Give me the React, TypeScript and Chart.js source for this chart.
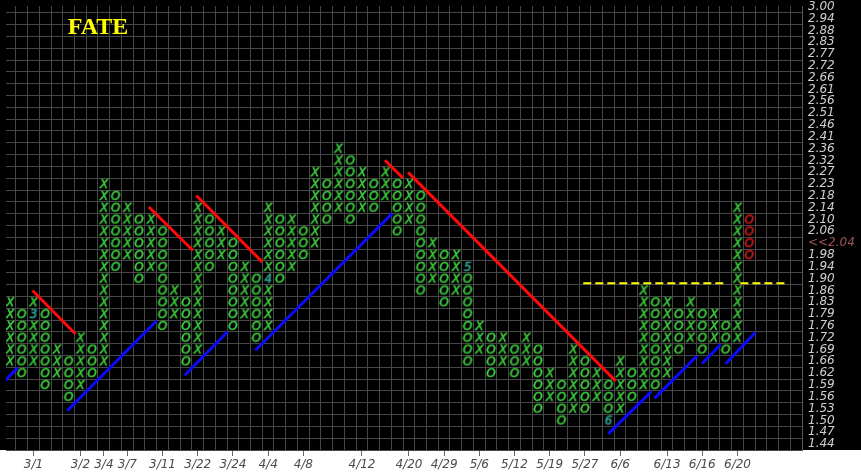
import React, { useEffect, useRef } from 'react';
import { Chart, registerables } from 'chart.js';

Chart.register(...registerables);

// box prices, bottom row first; the row index is the y value
const priceLabels = [
  '1.44', '1.47', '1.50', '1.53', '1.56', '1.59', '1.62', '1.66', '1.69', '1.72',
  '1.76', '1.79', '1.83', '1.86', '1.90', '1.94', '1.98', '2.02', '2.06', '2.10',
  '2.14', '2.18', '2.23', '2.27', '2.32', '2.36', '2.41', '2.46', '2.51', '2.56',
  '2.61', '2.66', '2.72', '2.77', '2.83', '2.88', '2.94', '3.00',
];
const lastPrice = '<<2.04';
const lastPriceRow = 17;

// one entry per column, even columns are X, odd columns are O
const colLow = [
  7, 6, 7, 5, 6, 4, 5, 6, 7, 15, 16, 14, 15, 10, 11, 7, 8, 15, 16, 10,
  11, 9, 10, 14, 15, 16, 17, 19, 20, 19, 20, 20, 21, 18, 19, 13, 14, 12, 13, 7,
  8, 6, 7, 6, 7, 3, 4, 2, 3, 3, 4, 2, 3, 4, 5, 5, 6, 8, 9, 8,
  9, 8, 9, 16,
];
const colHigh = [
  12, 11, 12, 11, 8, 7, 9, 8, 22, 21, 20, 19, 19, 18, 13, 12, 20, 19, 18, 17,
  15, 14, 20, 19, 19, 18, 23, 22, 25, 24, 23, 22, 23, 22, 22, 21, 17, 16, 16, 15,
  10, 9, 9, 8, 9, 8, 6, 5, 8, 7, 6, 5, 7, 6, 13, 12, 12, 11, 12, 11,
  11, 10, 20, 19,
];
const liveCol = 63;

// month numbers written in place of a box
const monthCols = [2, 22, 39, 51];
const monthRows = [11, 14, 15, 2];
const monthText = ['3', '4', '5', '6'];

const dateCols = [2, 6, 8, 10, 13, 16, 19, 22, 25, 30, 34, 37, 40, 43, 46, 49, 52, 56, 59, 62];
const dateLabels = [
  '3/1', '3/2', '3/4', '3/7', '3/11', '3/22', '3/24', '4/4', '4/8', '4/12',
  '4/20', '4/29', '5/6', '5/12', '5/19', '5/27', '6/6', '6/13', '6/16', '6/20',
];

// trend lines as [col1, row1, col2, row2]
const supportLines = [
  [-1, 4.8, 0.65, 6.45],
  [4.88, 2.82, 12.5, 10.44],
  [14.89, 5.83, 18.55, 9.51],
  [20.9, 7.92, 32.57, 19.5],
  [50.99, 0.86, 54.65, 4.44],
  [54.93, 3.87, 58.54, 7.45],
  [58.97, 6.8, 60.57, 8.43],
  [60.99, 6.8, 63.54, 9.46],
];
const resistanceLines = [
  [1.92, 13.0, 5.58, 9.31],
  [11.84, 20.06, 15.59, 16.38],
  [15.88, 21.03, 21.51, 15.4],
  [31.95, 24.02, 33.5, 22.5],
  [33.93, 22.99, 51.63, 5.33],
];
const breakoutRow = 13.6;
const breakoutSpans = [
  [48.86, 60.84],
  [62.25, 66.2],
];

const GREEN = '#40d040';
const TEAL = '#2fa597';
const RED = '#d41a1a';
const GRID = '#474747';
const tickFont = { family: '"DejaVu Sans"', style: 'italic' as const, size: 12 };

function glyph(text: string, color: string) {
  const c = document.createElement('canvas');
  c.width = 14;
  c.height = 14;
  const g = c.getContext('2d')!;
  g.font = 'italic 12px "DejaVu Sans"';
  g.fillStyle = color;
  g.strokeStyle = color;
  g.lineWidth = 0.5;
  g.textAlign = 'center';
  g.textBaseline = 'alphabetic';
  g.fillText(text, 7, 11.4);
  g.strokeText(text, 7, 11.4);
  return c;
}

const backdrop = {
  id: 'backdrop',
  beforeDraw(chart: Chart) {
    const { ctx, chartArea } = chart;
    ctx.save();
    ctx.fillStyle = '#000';
    ctx.fillRect(0, 0, chart.width, chartArea.bottom);
    ctx.restore();
  },
};

const caption = {
  id: 'caption',
  afterDraw(chart: Chart) {
    const { ctx } = chart;
    ctx.save();
    ctx.font = 'bold 24px "Liberation Serif"';
    ctx.fillStyle = '#ffff00';
    ctx.textAlign = 'center';
    ctx.fillText('FATE', 98, 34);
    ctx.restore();
  },
};

const App: React.FC = () => {
  const canvasRef = useRef<HTMLCanvasElement | null>(null);

  useEffect(() => {
    if (!canvasRef.current) return;

    const xMark = glyph('X', GREEN);
    const oMark = glyph('O', GREEN);
    const liveMark = glyph('O', RED);

    const boxes: { x: number; y: number }[] = [];
    const styles: HTMLCanvasElement[] = [];
    colLow.forEach((lo, c) => {
      for (let k = lo; k <= colHigh[c]; k++) {
        boxes.push({ x: c, y: k });
        const m = monthCols.findIndex((mc, i) => mc === c && monthRows[i] === k);
        if (m >= 0) styles.push(glyph(monthText[m], TEAL));
        else if (c === liveCol) styles.push(liveMark);
        else styles.push(c % 2 === 0 ? xMark : oMark);
      }
    });

    const segment = (l: number[], color: string) => ({
      type: 'line' as const,
      data: [
        { x: l[0], y: l[1] },
        { x: l[2], y: l[3] },
      ],
      borderColor: color,
      borderWidth: 3,
      pointRadius: 0,
      fill: false,
    });

    const xMin = -0.34;
    const xMax = 67.5;

    const chart = new Chart(canvasRef.current, {
      type: 'scatter',
      data: {
        datasets: [
          ...supportLines.map((l) => segment(l, '#0a0aff')),
          ...resistanceLines.map((l) => segment(l, '#ff0a0a')),
          ...breakoutSpans.map((s) => ({
            ...segment([s[0], breakoutRow, s[1], breakoutRow], '#ffff00'),
            borderWidth: 2,
            borderDash: [8, 4],
          })),
          {
            data: boxes,
            pointStyle: styles,
            pointRadius: 5,
          },
        ],
      } as any,
      options: {
        animation: false,
        responsive: true,
        maintainAspectRatio: false,
        events: [],
        layout: { padding: 0 },
        plugins: {
          legend: { display: false },
          tooltip: { enabled: false },
        },
        scales: {
          x: {
            type: 'linear',
            position: 'bottom',
            min: xMin,
            max: xMax,
            bounds: 'data',
            afterBuildTicks: (s: any) => {
              s.ticks = Array.from({ length: 68 }, (_, i) => ({ value: i }));
            },
            grid: { color: GRID, offset: true, drawTicks: false },
            border: { display: false },
            ticks: { display: false },
            afterFit: (s: any) => {
              s.height = 0;
              s.paddingLeft = 0;
              s.paddingRight = 0;
            },
          },
          xd: {
            type: 'linear',
            position: 'bottom',
            min: xMin,
            max: xMax,
            bounds: 'data',
            afterBuildTicks: (s: any) => {
              s.ticks = dateCols.map((v) => ({ value: v }));
            },
            grid: { drawOnChartArea: false, drawTicks: true, tickLength: 6, tickColor: '#666' },
            border: { display: false },
            ticks: {
              autoSkip: false,
              maxRotation: 0,
              padding: 2,
              color: '#4a4a4a',
              font: tickFont,
              callback: (_v: any, i: number) => dateLabels[i],
            },
            afterFit: (s: any) => {
              s.height = 26;
              s.paddingLeft = 0;
              s.paddingRight = 0;
            },
          },
          y: {
            type: 'linear',
            position: 'right',
            min: -0.5,
            max: 37.07,
            bounds: 'data',
            afterBuildTicks: (s: any) => {
              s.ticks = priceLabels.map((_, i) => ({ value: i }));
            },
            grid: { color: GRID, offset: true, drawTicks: false },
            border: { display: true, color: '#5a5a5a' },
            ticks: {
              autoSkip: false,
              padding: 6,
              font: tickFont,
              color: (ctx: any) => (ctx.index === lastPriceRow ? '#a05252' : '#cfcfcf'),
              callback: (_v: any, i: number) => (i === lastPriceRow ? lastPrice : priceLabels[i]),
            },
            afterFit: (s: any) => {
              s.width = 59;
              s.paddingTop = 0;
              s.paddingBottom = 0;
            },
          },
        },
      } as any,
      plugins: [backdrop, caption],
    });

    return () => {
      chart.destroy();
    };
  }, []);

  return (
    <div style={{ position: 'absolute', left: 0, top: 0, width: 861, height: 476 }}>
      <canvas ref={canvasRef} />
    </div>
  );
};

export default App;
